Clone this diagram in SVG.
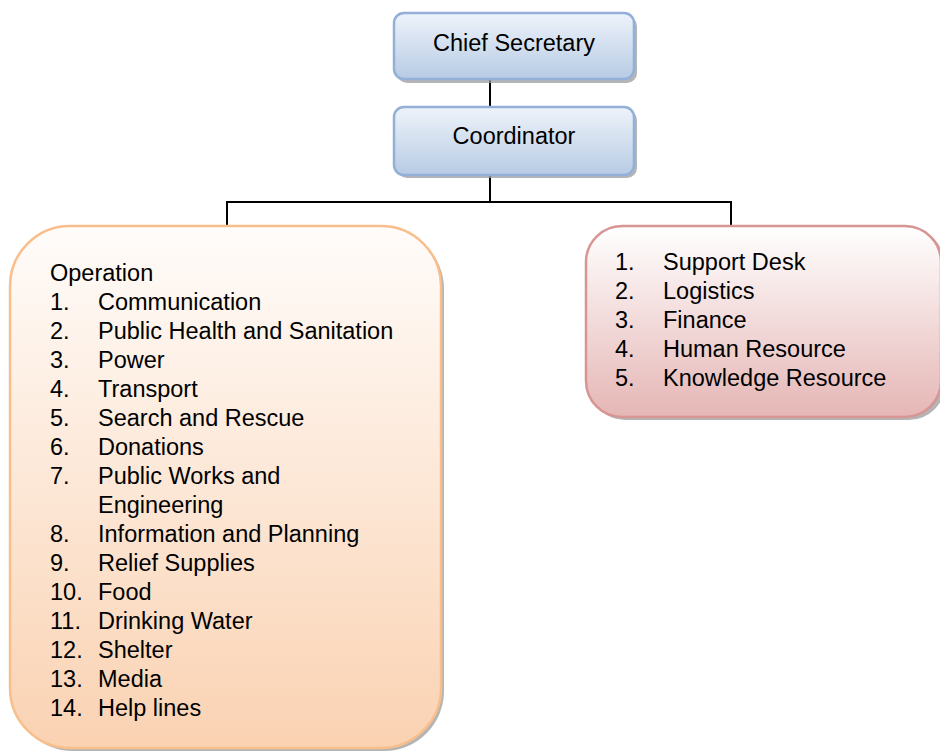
<svg xmlns="http://www.w3.org/2000/svg" width="940" height="753" viewBox="0 0 940 753">
<defs>
<linearGradient id="gBlue" x1="0" y1="0" x2="0" y2="1">
<stop offset="0" stop-color="#EEF3FA"/>
<stop offset="1" stop-color="#B7CBE4"/>
</linearGradient>
<linearGradient id="gOrange" x1="0" y1="0" x2="0" y2="1">
<stop offset="0" stop-color="#FFFCFA"/>
<stop offset="1" stop-color="#FAD2B2"/>
</linearGradient>
<linearGradient id="gRed" x1="0" y1="0" x2="0" y2="1">
<stop offset="0" stop-color="#FFFFFF"/>
<stop offset="1" stop-color="#E5B6B5"/>
</linearGradient>
</defs>
<style>
text { font-family: "Liberation Sans", Arial, sans-serif; font-size: 23.5px; fill: #000; }
.mid { text-anchor: middle; }
.conn { stroke: #000; stroke-width: 2; fill: none; }
.shadow { fill: #9C9C9C; opacity: 0.75; }
.blue { fill: url(#gBlue); stroke: #92B0D8; stroke-width: 2.5; }
.orange { fill: url(#gOrange); stroke: #F8BE8C; stroke-width: 2.5; }
.red { fill: url(#gRed); stroke: #D79594; stroke-width: 2.5; }
</style>
<rect width="940" height="753" fill="#FFFFFF"/>
<g id="connectors">
<line class="conn" x1="490" y1="80" x2="490" y2="107"/>
<line class="conn" x1="490" y1="175" x2="490" y2="202"/>
<line class="conn" x1="226" y1="202" x2="732" y2="202"/>
<line class="conn" x1="227" y1="201" x2="227" y2="230"/>
<line class="conn" x1="731" y1="201" x2="731" y2="230"/>
</g>
<g id="chief">
<rect class="shadow" x="397" y="16" width="240" height="67" rx="10"/>
<rect class="blue" x="394" y="13" width="240" height="66" rx="10"/>
<text class="mid" x="514" y="50.5">Chief Secretary</text>
</g>
<g id="coordinator">
<rect class="shadow" x="397" y="110" width="240" height="68" rx="10"/>
<rect class="blue" x="394" y="107" width="240" height="68" rx="10"/>
<text class="mid" x="514" y="144">Coordinator</text>
</g>
<g id="operation">
<rect class="shadow" x="13" y="229" width="431" height="522" rx="60"/>
<rect class="orange" x="10" y="226" width="431" height="522" rx="60"/>
<text x="50" y="281">Operation</text>
<text x="50" y="310">1.</text><text x="98" y="310">Communication</text>
<text x="50" y="339">2.</text><text x="98" y="339">Public Health and Sanitation</text>
<text x="50" y="368">3.</text><text x="98" y="368">Power</text>
<text x="50" y="397">4.</text><text x="98" y="397">Transport</text>
<text x="50" y="426">5.</text><text x="98" y="426">Search and Rescue</text>
<text x="50" y="455">6.</text><text x="98" y="455">Donations</text>
<text x="50" y="484">7.</text><text x="98" y="484">Public Works and</text>
<text x="98" y="513">Engineering</text>
<text x="50" y="542">8.</text><text x="98" y="542">Information and Planning</text>
<text x="50" y="571">9.</text><text x="98" y="571">Relief Supplies</text>
<text x="50" y="600">10.</text><text x="98" y="600">Food</text>
<text x="50" y="629">11.</text><text x="98" y="629">Drinking Water</text>
<text x="50" y="658">12.</text><text x="98" y="658">Shelter</text>
<text x="50" y="687">13.</text><text x="98" y="687">Media</text>
<text x="50" y="716">14.</text><text x="98" y="716">Help lines</text>
</g>
<g id="support">
<rect class="shadow" x="589" y="229" width="356" height="191" rx="36"/>
<rect class="red" x="586" y="226" width="355" height="191" rx="36"/>
<text x="615" y="270">1.</text><text x="663" y="270">Support Desk</text>
<text x="615" y="299">2.</text><text x="663" y="299">Logistics</text>
<text x="615" y="328">3.</text><text x="663" y="328">Finance</text>
<text x="615" y="357">4.</text><text x="663" y="357">Human Resource</text>
<text x="615" y="386">5.</text><text x="663" y="386">Knowledge Resource</text>
</g>
</svg>
